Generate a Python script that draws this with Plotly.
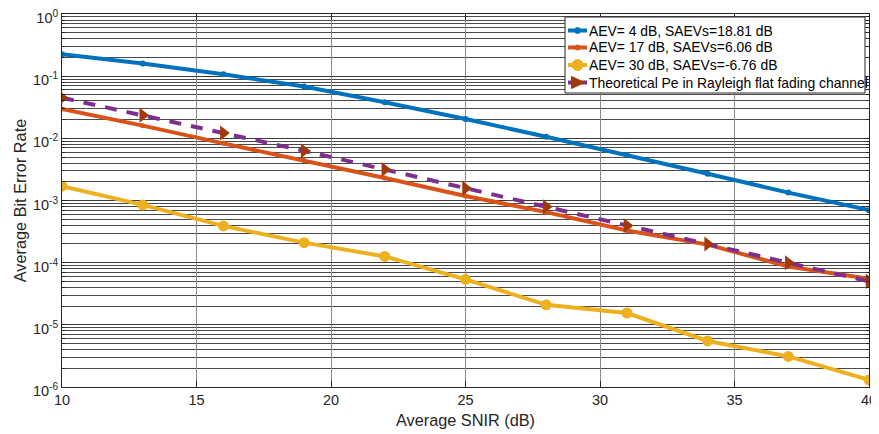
import plotly.graph_objects as go

snir = [10, 13, 16, 19, 22, 25, 28, 31, 34, 37, 40]
ber_aev4 = [0.225, 0.16, 0.107, 0.068, 0.038, 0.0205, 0.0106, 0.0054, 0.0027, 0.00134, 0.0007]
ber_aev17 = [0.0296, 0.016, 0.0083, 0.0044, 0.0023, 0.00118, 0.00065, 0.00033, 0.000195, 0.000087, 0.000055]
ber_aev30 = [0.0017, 0.00085, 0.00039, 0.00021, 0.000126, 0.000054, 0.000021, 0.0000155, 0.0000055, 0.0000031, 0.0000013]
ber_theory = [0.045, 0.0235, 0.0122, 0.0063, 0.00315, 0.00158, 0.00079, 0.000397, 0.000199, 0.0001, 0.00005]

names = [
    "AEV= 4 dB, SAEVs=18.81 dB",
    "AEV= 17 dB, SAEVs=6.06 dB",
    "AEV= 30 dB, SAEVs=-6.76 dB",
    "Theoretical Pe in Rayleigh flat fading channel",
]
ytick_vals = [1, 0.1, 0.01, 0.001, 0.0001, 0.00001, 0.000001]
ytick_text = ["10<sup>0</sup>", "10<sup>-1</sup>", "10<sup>-2</sup>", "10<sup>-3</sup>",
              "10<sup>-4</sup>", "10<sup>-5</sup>", "10<sup>-6</sup>"]
xtick_vals = [10, 15, 20, 25, 30, 35, 40]

# page geometry: the page body has an 8px margin, so the figure is offset
OFF = 8
VW, VH = 879, 434
W, H = VW - OFF, VH - OFF
# target plot area in page pixels
PL, PR, PT, PB = 62, 869, 14, 387
ML, MT = PL - OFF, PT - OFF
MR, MB = W - (PR - OFF), H - (PB - OFF)
PW, PH = PR - PL, PB - PT


def px(x):
    return (x - PL) / PW


def py(y):
    return 1 - (y - PT) / PH


colors = ["#0072BD", "#D95319", "#EDB120", "#7E2F8E"]
tri_color = "#A2390A"

fig = go.Figure()
fig.add_trace(go.Scatter(x=snir, y=ber_aev4, name=names[0], mode="lines+markers",
                         line=dict(color=colors[0], width=4),
                         marker=dict(symbol="circle", size=6, color=colors[0])))
fig.add_trace(go.Scatter(x=snir, y=ber_aev17, name=names[1], mode="lines+markers",
                         line=dict(color=colors[1], width=4),
                         marker=dict(symbol="circle", size=5, color=colors[1])))
fig.add_trace(go.Scatter(x=snir, y=ber_aev30, name=names[2], mode="lines+markers",
                         line=dict(color=colors[2], width=4),
                         marker=dict(symbol="circle", size=11, color=colors[2])))
fig.add_trace(go.Scatter(x=snir, y=ber_theory, name=names[3], mode="lines+markers",
                         line=dict(color=colors[3], width=4, dash="12px,10px"),
                         marker=dict(symbol="triangle-right", size=13, color=tri_color)))

# manual legend (compact rows like the reference)
shapes = []
annotations = []
box = dict(x0=565, x1=865, y0=17, y1=93)
shapes.append(dict(type="rect", xref="paper", yref="paper", layer="above",
                   x0=px(box["x0"]), x1=px(box["x1"]), y0=py(box["y1"]), y1=py(box["y0"]),
                   fillcolor="white", line=dict(color="#262626", width=1)))
row_y = [30.5, 47.5, 65, 82.5]
for i, name in enumerate(names):
    yy = py(row_y[i])
    shapes.append(dict(type="line", xref="paper", yref="paper", layer="above",
                       x0=px(568), x1=px(587), y0=yy, y1=yy,
                       line=dict(color=colors[i], width=4)))
    annotations.append(dict(xref="paper", yref="paper", x=px(587), y=yy,
                            xanchor="left", yanchor="middle", showarrow=False,
                            text=name, font=dict(size=13.9, color="#000000")))
mk_sizes = [3, 2.5, 5.5]
for i in range(3):
    r = mk_sizes[i]
    shapes.append(dict(type="circle", xref="paper", yref="paper", layer="above",
                       xsizemode="pixel", ysizemode="pixel",
                       xanchor=px(577.5), yanchor=py(row_y[i]),
                       x0=-r, x1=r, y0=-r, y1=r,
                       fillcolor=colors[i], line=dict(color=colors[i], width=1)))
shapes.append(dict(type="path", xref="paper", yref="paper", layer="above",
                   xsizemode="pixel", ysizemode="pixel",
                   xanchor=px(577.5), yanchor=py(row_y[3]),
                   path="M -6,-6 L 7,0 L -6,6 Z",
                   fillcolor=tri_color, line=dict(color=tri_color, width=1)))

fig.update_layout(
    width=W, height=H,
    margin=dict(l=ML, r=MR, t=MT, b=MB, pad=0),
    paper_bgcolor="white", plot_bgcolor="white",
    font=dict(family="Liberation Sans, Arial, sans-serif", size=14.5, color="#262626"),
    showlegend=False,
    shapes=shapes,
    annotations=annotations,
)
fig.update_xaxes(
    range=[10, 40], tickvals=xtick_vals, showgrid=True, gridcolor="#8a8a8a", gridwidth=1,
    showline=True, linecolor="#262626", linewidth=1, mirror="ticks",
    ticks="inside", ticklen=6, tickcolor="#262626", zeroline=False, automargin=False,
    ticklabeloverflow="allow",
    title=dict(text="Average SNIR (dB)", font=dict(size=16.3), standoff=7),
    tickfont=dict(size=14.5),
)
fig.update_yaxes(
    type="log", range=[-6, 0], tickvals=ytick_vals, ticktext=ytick_text,
    showgrid=True, gridcolor="#3a3a3a", gridwidth=1,
    minor=dict(showgrid=True, gridcolor="#4a4a4a", gridwidth=1, dtick="D1",
               ticks="inside", ticklen=3, tickcolor="#262626"),
    showline=True, linecolor="#262626", linewidth=1, mirror="ticks",
    ticks="inside", ticklen=6, tickcolor="#262626", zeroline=False, automargin=False,
    ticklabeloverflow="allow", ticklabelshift=4,
    title=dict(text="Average Bit Error Rate", font=dict(size=16.3), standoff=2),
    tickfont=dict(size=14.5),
)

fig.write_html("out.html")
